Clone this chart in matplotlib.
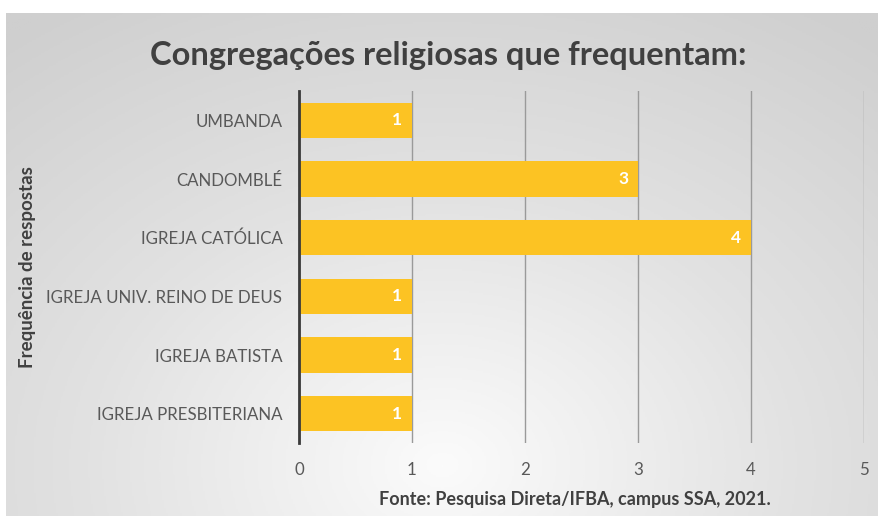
import numpy as np
import matplotlib.pyplot as plt
from matplotlib.colors import LinearSegmentedColormap

categories = ["UMBANDA", "CANDOMBLÉ", "IGREJA CATÓLICA", "IGREJA UNIV. REINO DE DEUS",
              "IGREJA BATISTA", "IGREJA PRESBITERIANA"]
values = [1, 3, 4, 1, 1, 1]
xticks = [0, 1, 2, 3, 4, 5]

plt.rcParams["font.family"] = ["Lato", "DejaVu Sans"]

fig = plt.figure(figsize=(8.79, 5.25), dpi=100)
fig.patch.set_facecolor("white")

# grey panel with radial gradient
bg = fig.add_axes([6 / 879, 1 - 516 / 525, 873 / 879, 503 / 525], zorder=0)
yy, xx = np.mgrid[-1:1:300j, -1:1:500j]
r = np.sqrt((xx * 0.8) ** 2 + ((yy - 0.8) * 0.6) ** 2)
grey = LinearSegmentedColormap.from_list("g", ["#fbfbfb", "#e2e2e2", "#cfcfcf"])
bg.imshow(r, cmap=grey, vmin=0, vmax=1.3, aspect="auto", extent=[0, 1, 0, 1])
bg.axis("off")

ax = fig.add_axes([299 / 879, 1 - 443 / 525, 565 / 879, 352 / 525], zorder=1)
ax.patch.set_alpha(0)
y = np.arange(len(categories))
bars = ax.barh(y, values, height=0.6, color="#FCC323", zorder=3)
ax.set_ylim(len(categories) - 0.5, -0.5)
ax.set_xlim(0, 5)
ax.set_xticks(xticks)
ax.set_yticks(y, categories)
ax.grid(axis="x", color="#9a9a9a", linewidth=1)
ax.set_axisbelow(True)
for s in ["top", "right", "bottom"]:
    ax.spines[s].set_visible(False)
ax.spines["left"].set_color("#3a3a3a")
ax.spines["left"].set_linewidth(2)
ax.spines["left"].set_zorder(4)
ax.tick_params(axis="both", length=0, labelsize=12.2, labelcolor="#595959")
ax.tick_params(axis="x", pad=14)
ax.tick_params(axis="y", pad=12)

for b, v in zip(bars, values):
    ax.text(v - 0.13, b.get_y() + b.get_height() / 2, str(v), ha="center", va="center",
            color="white", fontsize=12.5, fontweight="bold", zorder=5)

fig.text(448 / 879, 1 - 55 / 525, "Congregações religiosas que frequentam:", ha="center",
         va="center", fontsize=23.5, fontweight="bold", color="#404040")
fig.text(28 / 879, 1 - 267 / 525, "Frequência de respostas", rotation=90, ha="center",
         va="center", fontsize=13.5, fontweight="bold", color="#404040")
fig.text(575 / 879, 1 - 500 / 525, "Fonte: Pesquisa Direta/IFBA, campus SSA, 2021.",
         ha="center", va="center", fontsize=13, fontweight="bold", color="#404040")

fig.savefig("out.png", dpi=100)
